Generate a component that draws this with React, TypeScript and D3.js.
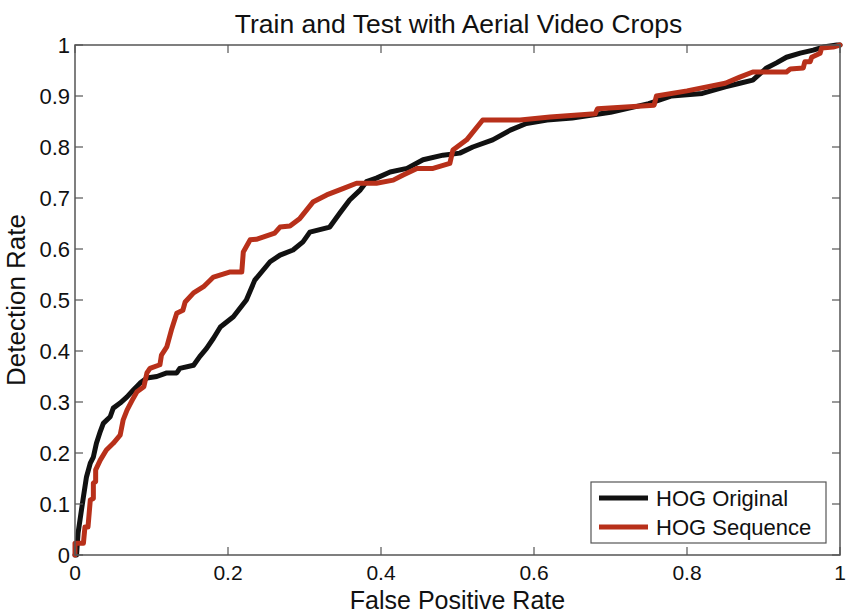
import React from 'react';
import * as d3 from 'd3';

const fpOriginal = [0, 0.002, 0.004, 0.009, 0.011, 0.015, 0.02, 0.024, 0.028, 0.033, 0.037, 0.046, 0.05, 0.059, 0.068, 0.076, 0.085, 0.094, 0.107, 0.12, 0.133, 0.137, 0.155, 0.163, 0.172, 0.181, 0.19, 0.207, 0.224, 0.235, 0.255, 0.268, 0.285, 0.298, 0.307, 0.333, 0.346, 0.359, 0.373, 0.381, 0.394, 0.412, 0.434, 0.455, 0.481, 0.503, 0.52, 0.546, 0.569, 0.59, 0.617, 0.65, 0.7, 0.75, 0.78, 0.82, 0.85, 0.869, 0.886, 0.904, 0.917, 0.93, 0.948, 0.965, 0.978, 0.996, 1];
const tpOriginal = [0, 0, 0.043, 0.094, 0.114, 0.153, 0.18, 0.192, 0.219, 0.242, 0.258, 0.271, 0.288, 0.298, 0.31, 0.323, 0.337, 0.347, 0.35, 0.357, 0.357, 0.366, 0.372, 0.389, 0.405, 0.425, 0.447, 0.467, 0.5, 0.539, 0.575, 0.588, 0.598, 0.614, 0.633, 0.643, 0.67, 0.696, 0.716, 0.732, 0.739, 0.751, 0.758, 0.775, 0.784, 0.788, 0.8, 0.814, 0.833, 0.846, 0.853, 0.857, 0.868, 0.885, 0.9, 0.905, 0.918, 0.925, 0.931, 0.955, 0.965, 0.976, 0.984, 0.99, 0.996, 1, 1];

const fpSequence = [0, 0, 0.011, 0.013, 0.017, 0.02, 0.024, 0.024, 0.027, 0.027, 0.033, 0.041, 0.05, 0.059, 0.063, 0.068, 0.076, 0.081, 0.09, 0.094, 0.098, 0.111, 0.113, 0.12, 0.126, 0.133, 0.141, 0.144, 0.155, 0.168, 0.181, 0.203, 0.218, 0.22, 0.229, 0.237, 0.261, 0.268, 0.281, 0.294, 0.311, 0.329, 0.351, 0.368, 0.394, 0.416, 0.429, 0.447, 0.468, 0.49, 0.494, 0.512, 0.533, 0.582, 0.621, 0.68, 0.683, 0.757, 0.76, 0.8, 0.85, 0.869, 0.886, 0.93, 0.935, 0.952, 0.954, 0.961, 0.963, 0.974, 0.976, 0.991, 1];
const tpSequence = [0, 0.023, 0.023, 0.055, 0.055, 0.108, 0.111, 0.141, 0.144, 0.167, 0.186, 0.206, 0.219, 0.235, 0.265, 0.284, 0.307, 0.32, 0.33, 0.357, 0.366, 0.373, 0.392, 0.408, 0.441, 0.474, 0.48, 0.496, 0.514, 0.526, 0.545, 0.555, 0.555, 0.594, 0.618, 0.619, 0.631, 0.643, 0.645, 0.66, 0.692, 0.706, 0.719, 0.729, 0.729, 0.735, 0.745, 0.758, 0.758, 0.768, 0.794, 0.814, 0.853, 0.853, 0.859, 0.865, 0.875, 0.882, 0.9, 0.91, 0.925, 0.937, 0.947, 0.947, 0.953, 0.955, 0.967, 0.967, 0.976, 0.984, 0.994, 0.996, 1];

const xTicks = [0, 0.2, 0.4, 0.6, 0.8, 1];
const yTicks = [0, 0.1, 0.2, 0.3, 0.4, 0.5, 0.6, 0.7, 0.8, 0.9, 1];
const seriesNames = ['HOG Original', 'HOG Sequence'];
const seriesColors = ['#111111', '#b8301a'];

const W = 847;
const H = 613;
const left = 75, right = 840, top = 45, bottom = 555;
const font = 'Liberation Sans, Arial, Helvetica, sans-serif';

export default function App() {
  const x = d3.scaleLinear().domain([0, 1]).range([left, right]);
  const y = d3.scaleLinear().domain([0, 1]).range([bottom, top]);
  const line = d3.line<[number, number]>().x(d => x(d[0])).y(d => y(d[1]));

  const series = [
    fpOriginal.map((v, i) => [v, tpOriginal[i]] as [number, number]),
    fpSequence.map((v, i) => [v, tpSequence[i]] as [number, number]),
  ];

  const tickLen = 8;
  const axisColor = '#555';

  return (
    <svg width={W} height={H} style={{ position: 'absolute', left: 0, top: 0, background: '#fff' }}>
      <rect x={0} y={0} width={W} height={H} fill="#fff" />
      <defs>
        <clipPath id="plot">
          <rect x={left - 3} y={top - 3} width={right - left + 6} height={bottom - top + 6} />
        </clipPath>
      </defs>

      <text x={(left + right) / 2 + 1} y={33} textAnchor="middle" fontFamily={font} fontSize={26.5} fill="#111">
        Train and Test with Aerial Video Crops
      </text>

      {series.map((s, i) => (
        <path key={i} d={line(s) || ''} fill="none" stroke={seriesColors[i]} strokeWidth={5}
          strokeLinejoin="round" strokeLinecap="round" clipPath="url(#plot)" />
      ))}

      <rect x={left} y={top} width={right - left} height={bottom - top} fill="none" stroke={axisColor} strokeWidth={1.5} />

      {xTicks.map(t => (
        <g key={'x' + t}>
          <line x1={x(t)} x2={x(t)} y1={bottom} y2={bottom - tickLen} stroke={axisColor} strokeWidth={1.2} />
          <line x1={x(t)} x2={x(t)} y1={top} y2={top + tickLen} stroke={axisColor} strokeWidth={1.2} />
          <text x={x(t)} y={580} textAnchor="middle" fontFamily={font} fontSize={21} fill="#111">{t}</text>
        </g>
      ))}
      {yTicks.map(t => (
        <g key={'y' + t}>
          <line x1={left} x2={left + tickLen} y1={y(t)} y2={y(t)} stroke={axisColor} strokeWidth={1.2} />
          <line x1={right} x2={right - tickLen} y1={y(t)} y2={y(t)} stroke={axisColor} strokeWidth={1.2} />
          <text x={70} y={y(t)} dy="0.36em" textAnchor="end" fontFamily={font} fontSize={22} fill="#111">{t}</text>
        </g>
      ))}

      <text x={(left + right) / 2} y={609} textAnchor="middle" fontFamily={font} fontSize={25} fill="#111">
        False Positive Rate
      </text>
      <text transform={`translate(25, ${(top + bottom) / 2}) rotate(-90)`} textAnchor="middle" fontFamily={font} fontSize={26} fill="#111">
        Detection Rate
      </text>

      <g>
        <rect x={591} y={482} width={235} height={61} fill="#fff" stroke={axisColor} strokeWidth={1.2} />
        {seriesNames.map((n, i) => (
          <g key={n}>
            <line x1={599} x2={648} y1={498 + i * 29} y2={498 + i * 29} stroke={seriesColors[i]} strokeWidth={5} />
            <text x={656} y={498 + i * 29} dy="0.36em" fontFamily={font} fontSize={22} fill="#111">{n}</text>
          </g>
        ))}
      </g>
    </svg>
  );
}
